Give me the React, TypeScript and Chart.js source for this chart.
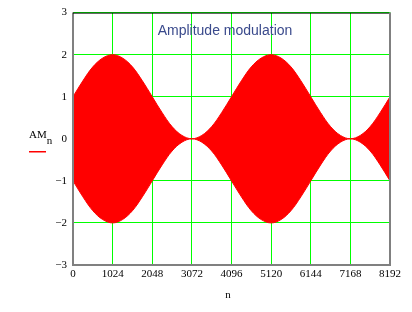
import React, { useEffect, useRef } from "react";
import { Chart, registerables } from "chart.js";
Chart.register(...registerables);

// envelope samples (n step 256)
const nValues = [0, 256, 512, 768, 1024, 1280, 1536, 1792, 2048, 2304, 2560, 2816, 3072, 3328, 3584, 3840, 4096, 4352, 4608, 4864, 5120, 5376, 5632, 5888, 6144, 6400, 6656, 6912, 7168, 7424, 7680, 7936, 8192];
const upperEnvelope = [1, 1.38, 1.71, 1.92, 2, 1.92, 1.71, 1.38, 1, 0.62, 0.29, 0.08, 0, 0.08, 0.29, 0.62, 1, 1.38, 1.71, 1.92, 2, 1.92, 1.71, 1.38, 1, 0.62, 0.29, 0.08, 0, 0.08, 0.29, 0.62, 1];
const lowerEnvelope = [-1, -1.38, -1.71, -1.92, -2, -1.92, -1.71, -1.38, -1, -0.62, -0.29, -0.08, 0, -0.08, -0.29, -0.62, -1, -1.38, -1.71, -1.92, -2, -1.92, -1.71, -1.38, -1, -0.62, -0.29, -0.08, 0, -0.08, -0.29, -0.62, -1];
const xTicks = [0, 1024, 2048, 3072, 4096, 5120, 6144, 7168, 8192];
const yTicks = [-3, -2, -1, 0, 1, 2, 3];
const titleText = "Amplitude modulation";
const yLabel = "AM";
const ySub = "n";
const xLabel = "n";

const SERIF = "'Liberation Serif', 'Times New Roman', serif";
const SANS = "'Liberation Sans', Arial, sans-serif";

const decorPlugin = {
  id: "decor",
  afterDatasetsDraw(chart: any) {
    const { ctx, chartArea } = chart;
    const { left, right, top, bottom } = chartArea;
    ctx.save();
    // frame
    ctx.strokeStyle = "#808080";
    ctx.lineWidth = 2;
    ctx.beginPath();
    ctx.moveTo(left, top);
    ctx.lineTo(left, bottom);
    ctx.lineTo(right, bottom);
    ctx.lineTo(right, top);
    ctx.stroke();
    ctx.lineWidth = 1;
    ctx.strokeStyle = "#000000";
    ctx.beginPath();
    ctx.moveTo(left, top + 0.5);
    ctx.lineTo(right - 1, top + 0.5);
    ctx.stroke();
    // title
    ctx.fillStyle = "#3a4a8c";
    ctx.font = "14px " + SANS;
    ctx.textAlign = "center";
    ctx.textBaseline = "middle";
    ctx.fillText(titleText, 225, 31);
    // y label
    ctx.fillStyle = "#000000";
    ctx.font = "11px " + SERIF;
    ctx.textAlign = "left";
    ctx.textBaseline = "alphabetic";
    ctx.fillText(yLabel, 29, 138);
    const w = ctx.measureText(yLabel).width;
    ctx.fillText(ySub, 29 + w, 144);
    ctx.fillStyle = "#ff0000";
    ctx.fillRect(29, 151, 17, 1.5);
    // x label
    ctx.fillStyle = "#000000";
    ctx.textAlign = "center";
    ctx.fillText(xLabel, 228, 298);
    ctx.restore();
  },
};

export default function App() {
  const ref = useRef<HTMLCanvasElement>(null);
  useEffect(() => {
    if (!ref.current) return;
    const chart = new Chart(ref.current, {
      type: "line",
      data: {
        labels: nValues,
        datasets: [
          {
            data: nValues.map((n, i) => ({ x: n, y: upperEnvelope[i] })),
            borderWidth: 1,
            borderColor: "#ff0000",
            backgroundColor: "#ff0000",
            pointRadius: 0,
            tension: 0.35,
            fill: "+1",
          },
          {
            data: nValues.map((n, i) => ({ x: n, y: lowerEnvelope[i] })),
            borderWidth: 1,
            borderColor: "#ff0000",
            backgroundColor: "#ff0000",
            pointRadius: 0,
            tension: 0.35,
            fill: false,
          },
        ],
      },
      options: {
        animation: false,
        responsive: true,
        maintainAspectRatio: false,
        layout: { padding: { top: 11, right: 22, left: 0, bottom: 0 } },
        plugins: { legend: { display: false }, tooltip: { enabled: false }, title: { display: false } },
        scales: {
          x: {
            type: "linear",
            min: 0,
            max: 8192,
            afterBuildTicks: (s: any) => { s.ticks = xTicks.map((v) => ({ value: v })); },
            afterFit: (s: any) => { s.height = 47; },
            grid: { color: "#00ff00", lineWidth: 1, drawTicks: false },
            border: { display: false },
            ticks: {
              color: "#000",
              font: { family: SERIF, size: 11 },
              padding: 3,
              maxRotation: 0,
              autoSkip: false,
              callback: (v: any) => String(v),
            },
          },
          y: {
            min: -3,
            max: 3,
            afterBuildTicks: (s: any) => { s.ticks = yTicks.map((v) => ({ value: v })); },
            afterFit: (s: any) => { s.width = 73; },
            grid: {
              color: (c: any) => (c.tick && c.tick.value === 0 ? "rgba(0,0,0,0)" : "#00ff00"),
              lineWidth: 1,
              drawTicks: false,
            },
            border: { display: false },
            ticks: {
              color: "#000",
              font: { family: SERIF, size: 11 },
              padding: 6,
              callback: (v: any) => String(v).replace("-", "\u2212"),
            },
          },
        },
      },
      plugins: [decorPlugin],
    });
    return () => chart.destroy();
  }, []);
  return (
    <div style={{ position: "fixed", left: 0, top: 0, width: 412, height: 312, background: "#fff" }}>
      <canvas ref={ref} />
    </div>
  );
}
